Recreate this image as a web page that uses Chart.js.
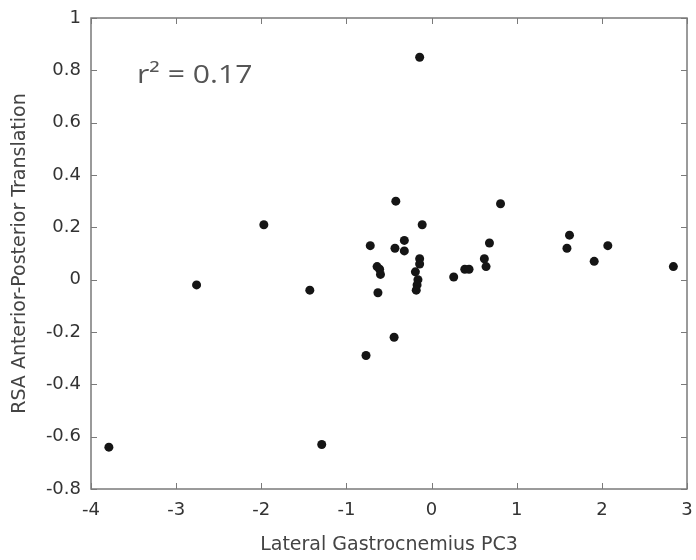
<!DOCTYPE html>
<html>
<head>
<meta charset="utf-8">
<script src="https://cdn.jsdelivr.net/npm/chart.js@4/dist/chart.umd.min.js"></script>
<style>
  body { margin: 0; background: #fff; }
  canvas { display: block; }
</style>
</head>
<body>
<canvas id="myChart" width="696" height="560"></canvas>
<script>
// Lateral Gastrocnemius PC3 scores
const pcScores = [
  -3.79, -2.76, -1.97, -1.43, -1.29, -0.77, -0.72, -0.64, -0.61, -0.60,
  -0.63, -0.44, -0.43, -0.42, -0.32, -0.32, -0.14, -0.11, -0.14, -0.14,
  -0.19, -0.16, -0.17, -0.18, 0.26, 0.39, 0.44, 0.62, 0.64, 0.68,
  0.81, 1.59, 1.62, 1.91, 2.07, 2.84
];
// RSA anterior-posterior translation
const translation = [
  -0.64, -0.02, 0.21, -0.04, -0.63, -0.29, 0.13, 0.05, 0.04, 0.02,
  -0.05, -0.22, 0.12, 0.30, 0.15, 0.11, 0.85, 0.21, 0.08, 0.06,
  0.03, 0.00, -0.02, -0.04, 0.01, 0.04, 0.04, 0.08, 0.05, 0.14,
  0.29, 0.12, 0.17, 0.07, 0.13, 0.05
];
const xTicks = [-4, -3, -2, -1, 0, 1, 2, 3];
const yTicks = [-0.8, -0.6, -0.4, -0.2, 0, 0.2, 0.4, 0.6, 0.8, 1];
const r2Label = 'r\u00B2 = 0.17';

const points = pcScores.map((v, i) => ({ x: v, y: translation[i] }));

// box around the plot with inward tick marks, like the original figure
const framePlugin = {
  id: 'frame',
  afterDraw(chart) {
    const { ctx, chartArea: a, scales: { x, y } } = chart;
    ctx.save();
    ctx.strokeStyle = '#7a7a7a';
    ctx.lineWidth = 1.5;
    ctx.strokeRect(a.left, a.top, a.right - a.left, a.bottom - a.top);
    ctx.lineWidth = 1;
    ctx.beginPath();
    xTicks.forEach(v => {
      const px = Math.round(x.getPixelForValue(v)) + 0.5;
      ctx.moveTo(px, a.bottom); ctx.lineTo(px, a.bottom - 6);
      ctx.moveTo(px, a.top); ctx.lineTo(px, a.top + 6);
    });
    yTicks.forEach(v => {
      const py = Math.round(y.getPixelForValue(v)) + 0.5;
      ctx.moveTo(a.left, py); ctx.lineTo(a.left + 6, py);
      ctx.moveTo(a.right, py); ctx.lineTo(a.right - 6, py);
    });
    ctx.stroke();

    // r-squared note, slightly stretched like the source image
    ctx.fillStyle = '#555';
    ctx.font = '26px "Open Sans"';
    ctx.textBaseline = 'alphabetic';
    ctx.translate(a.left + 46, a.top + 65);
    ctx.scale(1.16, 1);
    ctx.fillText(r2Label, 0, 0);
    ctx.restore();
  }
};

const tickFont = { family: '"DejaVu Sans"', size: 18 };

new Chart(document.getElementById('myChart'), {
  type: 'scatter',
  data: {
    datasets: [{
      data: points,
      backgroundColor: '#151515',
      borderWidth: 0,
      pointRadius: 4.5,
      pointHoverRadius: 4.5
    }]
  },
  options: {
    responsive: false,
    animation: false,
    layout: { padding: { top: 18, right: 9, left: 0, bottom: 0 } },
    plugins: { legend: { display: false }, tooltip: { enabled: false } },
    scales: {
      x: {
        type: 'linear',
        min: -4,
        max: 3,
        afterBuildTicks: s => { s.ticks = xTicks.map(v => ({ value: v })); },
        afterFit: s => { s.height = 71; s.paddingLeft = 0; s.paddingRight = 0; },
        grid: { display: false, drawTicks: false },
        border: { display: false },
        ticks: {
          color: '#333',
          font: tickFont,
          padding: 11,
          callback: v => String(v)
        },
        title: {
          display: true,
          text: 'Lateral Gastrocnemius PC3',
          color: '#444',
          font: { family: '"DejaVu Sans"', size: 19 },
          padding: { top: 4, bottom: 4 }
        }
      },
      y: {
        type: 'linear',
        min: -0.8,
        max: 1,
        afterBuildTicks: s => { s.ticks = yTicks.map(v => ({ value: v })); },
        afterFit: s => { s.width = 91; s.paddingTop = 0; s.paddingBottom = 0; },
        grid: { display: false, drawTicks: false },
        border: { display: false },
        ticks: {
          color: '#333',
          font: tickFont,
          padding: 10,
          callback: v => String(Math.round(v * 10) / 10)
        },
        title: {
          display: true,
          text: 'RSA Anterior-Posterior Translation',
          color: '#444',
          font: { family: '"DejaVu Sans"', size: 19 },
          padding: { top: 9, bottom: 4 }
        }
      }
    }
  },
  plugins: [framePlugin]
});
</script>
</body>
</html>
